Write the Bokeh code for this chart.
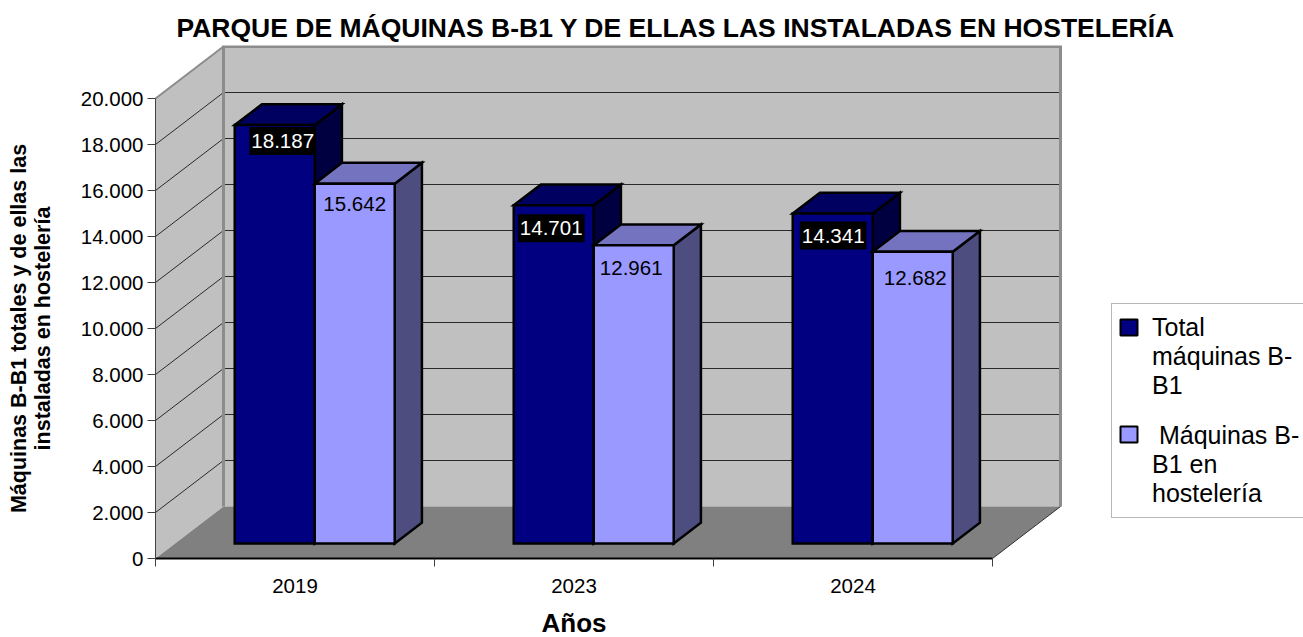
import math
from bokeh.plotting import figure
from bokeh.embed import file_html
from bokeh.resources import INLINE
from bokeh.core.properties import value
from bokeh.models import Range1d, FixedTicker, Legend, LegendItem, ColumnDataSource, Title, BoxAnnotation, Label

# ---- data ----
categories = ["2019", "2023", "2024"]
total_maquinas = [18187, 14701, 14341]
maquinas_hosteleria = [15642, 12961, 12682]
y_ticks = [0, 2000, 4000, 6000, 8000, 10000, 12000, 14000, 16000, 18000, 20000]
y_tick_labels = ["0", "2.000", "4.000", "6.000", "8.000", "10.000", "12.000", "14.000", "16.000", "18.000", "20.000"]
value_labels_total = ["18.187", "14.701", "14.341"]
value_labels_host = ["15.642", "12.961", "12.682"]

# ---- layout / style ----
FONT = "Liberation Sans"
W, H = 1303, 637
PX_TOP = 45                      # the frame fills the page below the title
ORIGIN_X, ORIGIN_Y = 155, 558    # where the front axes cross
PX_PER_CAT = 279.0
PX_PER_VAL = 460.0 / 20000
DEPTH_X = 68.0 / PX_PER_CAT      # wall depth, category units
DEPTH_Y = 52.0 / PX_PER_VAL      # wall depth, value units
BAR_W = 80.0 / PX_PER_CAT
BAR_D0, BAR_D1 = 0.29, 0.69
BAR_LINE = 2.5
NCAT = len(categories)
VMAX = y_ticks[-1]

# pixel nudges of the moved data labels
nudge_total = [(8, 16), (-2.5, 23), (0.5, 22)]
nudge_host = [(0, 20.5), (-2.5, 23), (2.5, 26)]


def proj(x, v, d):
    return x + d * DEPTH_X, v + d * DEPTH_Y


def poly(pts):
    c = [proj(*q) for q in pts]
    return [q[0] for q in c], [q[1] for q in c]


p = figure(
    width=W, height=H, output_backend="svg", toolbar_location=None,
    x_range=Range1d(-ORIGIN_X / PX_PER_CAT, (W - ORIGIN_X) / PX_PER_CAT),
    y_range=Range1d((ORIGIN_Y - H) / PX_PER_VAL, (ORIGIN_Y - PX_TOP) / PX_PER_VAL),
    min_border_left=0, min_border_right=0, min_border_top=PX_TOP, min_border_bottom=0,
    background_fill_color="white", border_fill_color="white",
)
p.outline_line_color = None
p.grid.visible = False

# walls and floor
for pts, col in [
    ([(0, 0, 0), (0, VMAX, 0), (0, VMAX, 1), (0, 0, 1)], "#C0C0C0"),
    ([(0, 0, 1), (0, VMAX, 1), (NCAT, VMAX, 1), (NCAT, 0, 1)], "#C0C0C0"),
    ([(0, 0, 0), (NCAT, 0, 0), (NCAT, 0, 1), (0, 0, 1)], "#808080"),
]:
    xs, ys = poly(pts)
    p.patch(xs, ys, fill_color=col, line_color=None)

# gridlines on both walls
gx, gy = [], []
for t in y_ticks[1:-1]:
    x_, y_ = poly([(0, t, 0), (0, t, 1), (NCAT, t, 1)])
    gx.append(x_)
    gy.append(y_)
p.multi_line(gx, gy, line_color="#2A2A2A", line_width=1)

# wall edges
ex, ey = poly([(0, 0, 1), (0, VMAX, 1), (NCAT, VMAX, 1), (NCAT, 0, 1)])
p.line(ex, ey, line_color="#8C8C8C", line_width=3, line_join="miter")
ex, ey = poly([(0, VMAX, 0), (0, VMAX, 1)])
p.line(ex, ey, line_color="#8C8C8C", line_width=2)
ex, ey = poly([(NCAT, 0, 0), (NCAT, 0, 1)])
p.line(ex, ey, line_color="#303030", line_width=1)


def faces(values, offset):
    fr, tp, sd = ([], []), ([], []), ([], [])
    for i, v in enumerate(values):
        x0 = i + 0.5 - BAR_W + offset * BAR_W
        x1 = x0 + BAR_W
        for store, pts in (
            (fr, [(x0, 0, BAR_D0), (x1, 0, BAR_D0), (x1, v, BAR_D0), (x0, v, BAR_D0)]),
            (tp, [(x0, v, BAR_D0), (x1, v, BAR_D0), (x1, v, BAR_D1), (x0, v, BAR_D1)]),
            (sd, [(x1, 0, BAR_D0), (x1, 0, BAR_D1), (x1, v, BAR_D1), (x1, v, BAR_D0)]),
        ):
            a, b = poly(pts)
            store[0].append(a)
            store[1].append(b)
    return fr, tp, sd


SERIES = [
    (total_maquinas, 0, "#000080", "#000060", "#000040"),
    (maquinas_hosteleria, 1, "#9999FF", "#7373BF", "#4D4D80"),
]
for values, offset, front, top, side in SERIES:
    fr, tp, sd = faces(values, offset)
    p.patches(sd[0], sd[1], fill_color=side, line_color="black", line_width=BAR_LINE, line_join="miter")
    p.patches(tp[0], tp[1], fill_color=top, line_color="black", line_width=BAR_LINE, line_join="miter")
    p.patches(fr[0], fr[1], fill_color=front, line_color="black", line_width=BAR_LINE, line_join="miter")


def labels(values, texts, offset, nudges, color, bg):
    cx = [i + 0.5 - BAR_W + (offset + 0.5) * BAR_W + BAR_D0 * DEPTH_X for i in range(NCAT)]
    cy = [v + BAR_D0 * DEPTH_Y for v in values]
    src = ColumnDataSource(dict(x=cx, y=cy, t=texts, dx=[n[0] for n in nudges], dy=[n[1] for n in nudges]))
    p.text("x", "y", text="t", source=src, x_offset="dx", y_offset="dy",
           text_align="center", text_baseline="middle", text_color=color,
           text_font=value(FONT), text_font_size="20.5px",
           background_fill_color=bg, padding=(2, 7))


labels(total_maquinas, value_labels_total, 0, nudge_total, "white", "black")
labels(maquinas_hosteleria, value_labels_host, 1, nudge_host, "black", None)

# axes sit inside the full-page frame, on the front edges of the floor and wall
xa = p.xaxis[0]
xa.fixed_location = 0
xa.bounds = (0, NCAT)
xa.ticker = FixedTicker(ticks=[i + 0.5 for i in range(NCAT)], minor_ticks=list(range(NCAT + 1)))
xa.major_label_overrides = {i + 0.5: c for i, c in enumerate(categories)}
xa.major_tick_out = 0
xa.major_tick_in = 0
xa.minor_tick_out = 8
xa.minor_tick_in = 0
xa.minor_tick_line_color = "#404040"
xa.axis_line_color = "black"
xa.axis_line_width = 2
xa.major_label_text_font = FONT
xa.major_label_text_font_size = "20.5px"
xa.major_label_text_color = "black"
xa.major_label_standoff = 12

ya = p.yaxis[0]
ya.fixed_location = 0
ya.bounds = (0, VMAX)
ya.ticker = FixedTicker(ticks=y_ticks)
ya.major_label_overrides = dict(zip(y_ticks, y_tick_labels))
ya.major_tick_out = 8
ya.major_tick_in = 0
ya.minor_tick_out = 0
ya.minor_tick_in = 0
ya.major_tick_line_color = "#404040"
ya.axis_line_color = "#404040"
ya.major_label_text_font = FONT
ya.major_label_text_font_size = "20.5px"
ya.major_label_text_color = "black"
ya.major_label_standoff = 4

p.add_layout(Label(x=0, y=VMAX / 2, x_offset=-125, angle=math.pi / 2,
                   text="Máquinas B-B1 totales y de ellas las\ninstaladas en hostelería",
                   text_align="center", text_baseline="middle", text_color="black",
                   text_font=FONT, text_font_size="21.5px", text_font_style="bold",
                   text_line_height=1.0))
p.add_layout(Label(x=NCAT / 2, y=0, y_offset=-64, text="Años",
                   text_align="center", text_baseline="middle", text_color="black",
                   text_font=FONT, text_font_size="26px", text_font_style="bold",
                   text_line_height=0.9))

p.title = Title(text="PARQUE DE MÁQUINAS B-B1 Y DE ELLAS LAS INSTALADAS EN HOSTELERÍA",
                text_font=FONT, text_font_size="26.5px", text_font_style="bold",
                text_color="black", align="left", offset=176, standoff=5)

# legend: the swatches sit on the first line of each wrapped label, under a see-through legend box
blank = p.patches([[]], [[]], fill_alpha=0, line_alpha=0)
legend = Legend(
    items=[LegendItem(label="Total\nmáquinas B-\nB1", renderers=[blank]),
           LegendItem(label=" Máquinas B-\nB1 en\nhostelería", renderers=[blank])],
    location=(1111, H - 518), orientation="vertical",
    label_text_font=FONT, label_text_font_size="25px", label_text_color="black",
    label_text_line_height=1.35,
    label_standoff=3, glyph_width=28, glyph_height=16,
    padding=9, margin=0, spacing=21,
    border_line_color="#707070", border_line_width=1, background_fill_alpha=0,
)
p.add_layout(legend, "center")
for (_, _, front, _, _), (top_px, bottom_px) in zip(SERIES, [(319, 335), (426, 442)]):
    p.add_layout(BoxAnnotation(left=1120, right=1137,
                               top=H - top_px, bottom=H - bottom_px,
                               left_units="screen", right_units="screen",
                               top_units="screen", bottom_units="screen",
                               fill_color=front, fill_alpha=1, line_color="black", line_alpha=1,
                               line_width=2, level="overlay"))

open("out.html", "w").write(file_html(p, INLINE))
